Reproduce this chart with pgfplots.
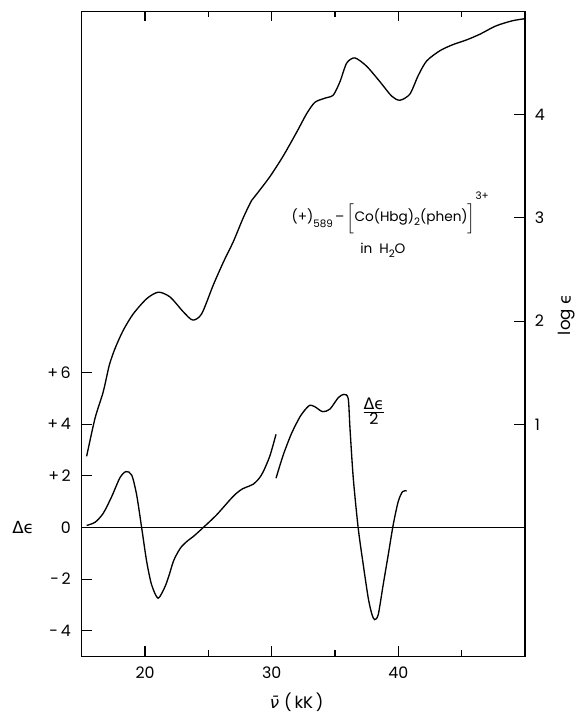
\documentclass[border=0pt]{standalone}
\usepackage{pgfplots}
\pgfplotsset{compat=1.18}
\usepackage{fontspec}
\setmainfont{Poppins}
\newfontfamily\gr{DejaVu Sans}

\pgfplotstableread{
x y
15.39 0.08
16.05 0.20
16.70 0.55
17.37 1.20
18.02 1.93
18.50 2.17
18.95 2.03
19.34 1.26
19.74 -0.03
20.13 -1.32
20.52 -2.22
21.03 -2.74
21.57 -2.30
21.90 -1.85
22.23 -1.32
22.60 -0.95
22.90 -0.73
23.40 -0.50
23.81 -0.35
24.60 0.00
25.65 0.49
26.70 1.07
27.20 1.32
27.70 1.50
28.20 1.60
28.55 1.68
29.00 1.90
29.34 2.17
29.86 2.78
30.34 3.61
}\cdA

\pgfplotstableread{
x y
30.34 1.91
30.91 2.81
31.57 3.65
32.23 4.29
32.70 4.60
33.02 4.74
33.41 4.68
34.02 4.49
34.60 4.59
35.25 5.03
35.70 5.16
36.04 5.00
36.18 3.84
36.44 1.91
36.83 -0.03
37.23 -1.45
37.62 -2.73
37.90 -3.35
38.12 -3.57
38.41 -3.38
38.80 -2.22
39.20 -1.06
39.59 0.10
39.99 1.01
40.33 1.39
40.65 1.42
}\cdB

\pgfplotstableread{
x y
15.39 0.69
16.05 1.057
16.70 1.315
17.18 1.573
17.63 1.734
18.28 1.911
19.07 2.07
20.13 2.217
21.05 2.28
21.97 2.234
23.02 2.09
23.76 2.01
24.47 2.07
25.39 2.35
26.18 2.57
26.97 2.77
27.75 3.00
28.42 3.17
28.81 3.23
29.86 3.40
30.91 3.60
31.97 3.83
32.76 4.01
33.41 4.12
34.20 4.16
34.86 4.19
35.39 4.32
35.92 4.50
36.57 4.55
37.49 4.47
38.54 4.32
39.47 4.18
40.12 4.14
40.91 4.20
41.57 4.38
42.23 4.52
43.28 4.62
44.33 4.68
45.39 4.725
46.44 4.78
47.70 4.86
49.00 4.91
50.00 4.93
}\logeps

\begin{document}
\begin{tikzpicture}
\pgfplotsset{
  common/.style={
    width=266pt, height=387pt, scale only axis,
    xmin=15, xmax=50,
    tick align=inside,
    axis line style={line width=0.9pt},
    tick style={line width=0.7pt, black},
    tick label style={font=\fontsize{9.5}{10}\selectfont},
    label style={font=\fontsize{10}{11}\selectfont},
  }
}
\begin{axis}[common,
  ymin=-5, ymax=20,
  xtick={20,30,40}, xticklabels={20,30,40},
  minor xtick={25,35,45},
  xtick pos=both, xticklabel pos=lower,
  major tick length=6pt, minor tick length=3.6pt,
  ytick={-4,-2,0,2,4,6},
  yticklabels={-\,4,-\,2,0,+\,2,+\,4,+\,6},
  ytick pos=left,
  xticklabel style={anchor=center, yshift=-9.8pt},
  yticklabel style={anchor=east, xshift=-3pt},
  xlabel={{\gr\itshape ν̄}\kern3pt(\,kK\,)},
  xlabel style={at={(axis description cs:0.485,-0.0715)}, anchor=center},
  ylabel={\gr Δϵ},
  ylabel style={rotate=-90, at={(axis description cs:-0.132,0.2)}, anchor=center},
]
\coordinate (BL) at (rel axis cs:0,0);
\coordinate (TR) at (rel axis cs:1,1);
\addplot[line width=0.7pt, black] coordinates {(15,0) (50,0)};
\addplot[line width=0.8pt, black, smooth, tension=0.45] table[x=x,y=y] {\cdA};
\addplot[line width=0.8pt, black, smooth, tension=0.45] table[x=x,y=y] {\cdB};
\node[font=\fontsize{8.2}{9}\selectfont, inner sep=0] at (axis cs:39.35,12.2)
  {(+)\raisebox{-3.6pt}{\fontsize{6.2}{7}\selectfont 589}\,–\,$\Bigl[$Co(Hbg)\raisebox{-2.2pt}{\fontsize{6.2}{7}\selectfont 2}(phen)$\Bigr]$\raisebox{13.5pt}{\fontsize{6.2}{7}\selectfont 3+}};
\node[font=\fontsize{8.2}{9}\selectfont, inner sep=0] at (axis cs:38.78,10.75)
  {in\enspace H\raisebox{-2.2pt}{\fontsize{6.2}{7}\selectfont 2}O};
\node[font=\fontsize{9.5}{10}\selectfont, inner sep=0] at (axis cs:38.07,4.5)
  {$\frac{\hbox{\gr Δϵ}}{\hbox{2}}$};
\end{axis}
\begin{axis}[common,
  ymin=-1.25, ymax=5,
  axis x line=none, axis y line*=right,
  ytick={1,2,3,4}, yticklabels={1,2,3,4},
  major tick length=6.6pt,
  yticklabel style={anchor=west, xshift=2.4pt},
  ylabel={log \gr ϵ},
  ylabel style={at={(axis description cs:1.094,0.53)}, anchor=center, rotate=0},
]
\addplot[line width=0.8pt, black, smooth, tension=0.45] table[x=x,y=y] {\logeps};
\end{axis}
\pgfresetboundingbox
\path[use as bounding box] ([xshift=-49.02pt,yshift=-35.1pt]BL) rectangle ([xshift=31.2pt,yshift=6.9pt]TR);
\end{tikzpicture}
\end{document}
